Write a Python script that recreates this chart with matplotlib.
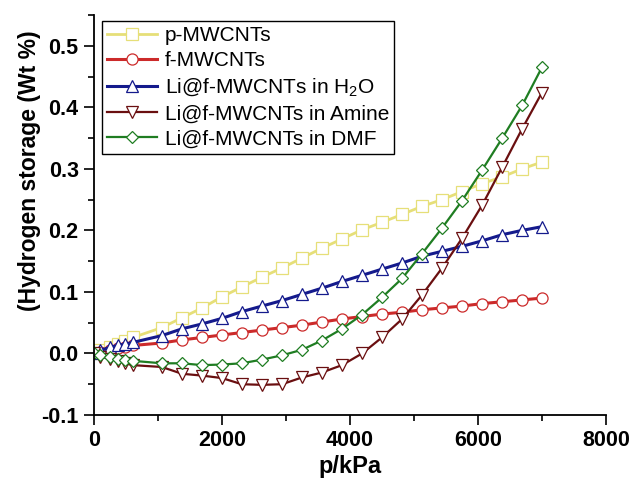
import matplotlib
matplotlib.use("Agg")
import matplotlib.pyplot as plt
from matplotlib.ticker import MultipleLocator

plt.rcParams['font.family'] = ['Liberation Sans', 'DejaVu Sans']
plt.rcParams['mathtext.default'] = 'regular'

# pressure (kPa)
pressure = [0, 100, 250, 370, 480, 610, 1060, 1375, 1690, 2000, 2310, 2625, 2940,
            3250, 3560, 3875, 4190, 4500, 4815, 5125, 5440, 5750, 6065, 6380, 6690, 7000]

# hydrogen storage (wt %)
p_mwcnt = [0, 0.005, 0.011, 0.016, 0.021, 0.026, 0.042, 0.058, 0.074, 0.092, 0.108, 0.124, 0.139,
           0.155, 0.171, 0.186, 0.201, 0.213, 0.226, 0.239, 0.250, 0.263, 0.276, 0.287, 0.300, 0.311]
f_mwcnt = [0, 0.003, 0.006, 0.009, 0.011, 0.013, 0.017, 0.022, 0.026, 0.030, 0.034, 0.038, 0.042,
           0.046, 0.051, 0.056, 0.060, 0.064, 0.067, 0.071, 0.074, 0.077, 0.081, 0.084, 0.087, 0.090]
li_h2o = [0, 0.005, 0.010, 0.013, 0.015, 0.018, 0.029, 0.040, 0.048, 0.057, 0.068, 0.077, 0.086,
          0.096, 0.106, 0.117, 0.127, 0.137, 0.147, 0.158, 0.166, 0.174, 0.183, 0.193, 0.200, 0.206]
li_amine = [0, -0.005, -0.009, -0.012, -0.016, -0.019, -0.022, -0.033, -0.036, -0.040, -0.050, -0.051, -0.050,
            -0.039, -0.031, -0.019, 0.000, 0.026, 0.056, 0.095, 0.139, 0.187, 0.241, 0.303, 0.365, 0.424]
li_dmf = [0, -0.003, -0.006, -0.009, -0.010, -0.012, -0.016, -0.016, -0.019, -0.018, -0.016, -0.010, -0.003,
          0.006, 0.021, 0.040, 0.063, 0.091, 0.122, 0.162, 0.204, 0.248, 0.298, 0.350, 0.403, 0.465]

series = [
    (p_mwcnt, 'p-MWCNTs', '#e6df78', 's', 2.0),
    (f_mwcnt, 'f-MWCNTs', '#cc2a2a', 'o', 2.2),
    (li_h2o, 'Li@f-MWCNTs in H$_2$O', '#141a8c', '^', 2.2),
    (li_amine, 'Li@f-MWCNTs in Amine', '#6a0f10', 'v', 1.6),
    (li_dmf, 'Li@f-MWCNTs in DMF', '#1f7d22', 'D', 1.6),
]

fig = plt.figure(figsize=(6.29, 4.91), dpi=100)
ax = fig.add_axes([0.1494, 0.1548, 0.8140, 0.8147])

for vals, label, color, marker, lw in series:
    ms = 6.5 if marker == 'D' else 8
    ax.plot(pressure, vals, color=color, lw=lw, marker=marker, ms=ms,
            mfc='white', mec=color, mew=0.9, label=label)

ax.set_xlim(0, 8000)
ax.set_ylim(-0.1, 0.55)
ax.xaxis.set_major_locator(MultipleLocator(2000))
ax.xaxis.set_minor_locator(MultipleLocator(1000))
ax.yaxis.set_major_locator(MultipleLocator(0.1))
ax.yaxis.set_minor_locator(MultipleLocator(0.05))
ax.yaxis.set_major_formatter(plt.FuncFormatter(lambda v, p: '%.1f' % v))

for s in ['top', 'right']:
    ax.spines[s].set_visible(False)
for s in ['left', 'bottom']:
    ax.spines[s].set_linewidth(1.3)

ax.tick_params(which='major', direction='out', length=7, width=1.2, labelsize=15.5, pad=4)
ax.tick_params(which='minor', direction='out', length=4, width=1.2)
for lab in ax.get_xticklabels() + ax.get_yticklabels():
    lab.set_fontweight('bold')

ax.set_xlabel('p/kPa', fontsize=17, fontweight='bold', labelpad=3)
ax.set_ylabel('(Hydrogen storage (Wt %)', fontsize=16.5, fontweight='bold')
ax.yaxis.set_label_coords(-0.103, 0.61)

leg = ax.legend(loc='upper left', bbox_to_anchor=(0.016, 0.985), borderaxespad=0,
                fontsize=15, numpoints=1, handlelength=2.4, handletextpad=0.35,
                labelspacing=0.3, borderpad=0.25, fancybox=False, framealpha=1)
leg.get_frame().set_edgecolor('black')
leg.get_frame().set_linewidth(1.0)

fig.savefig('out.png', dpi=100)
